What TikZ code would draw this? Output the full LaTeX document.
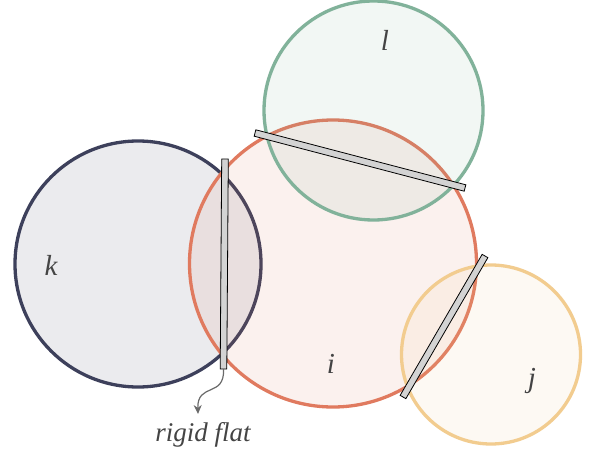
\documentclass[tikz,border=0pt]{standalone}
\usepackage{fontspec}
\setmainfont{Liberation Serif}
\usetikzlibrary{calc,arrows.meta}
\definecolor{cK}{HTML}{3D405B}
\definecolor{cI}{HTML}{E07A5F}
\definecolor{cL}{HTML}{81B29A}
\definecolor{cJ}{HTML}{F2CC8F}
\definecolor{barfill}{HTML}{D3D3D3}
\definecolor{txt}{HTML}{444444}
\definecolor{arrowgray}{HTML}{6A6A6A}
\tikzset{
  ball/.style={circle, draw=#1, fill=#1, fill opacity=0.1, draw opacity=1, line width=3.3pt, inner sep=0pt, outer sep=0pt},
  lab/.style={text=txt, font=\fontsize{29}{32}\selectfont\itshape, inner sep=0pt},
  flatbar/.style={draw=black, fill=barfill, line width=0.8pt, line join=miter},
  pointer/.style={draw=arrowgray, line width=1.2pt, -{Stealth[length=9pt,width=8pt]}},
}
\newcommand{\flatbar}[2]{%
  \path[flatbar] ($(#1)!3.3pt!90:(#2)$) -- ($(#2)!3.3pt!-90:(#1)$) -- ($(#2)!3.3pt!90:(#1)$) -- ($(#1)!3.3pt!-90:(#2)$) -- cycle;}
\begin{document}
\begin{tikzpicture}[x=1pt,y=-1pt]
\useasboundingbox[fill=white] (0,0) rectangle (593,457);
% circles
\node[ball=cK, minimum size=246pt] (k) at (138,264) {};
\node[ball=cI, minimum size=287pt] (i) at (333,263.5) {};
\node[ball=cL, minimum size=219pt] (l) at (373.5,110.5) {};
\node[ball=cJ, minimum size=179pt] (j) at (491,354.5) {};
% labels
\node[lab] (kl) at (51,265) {k};
\node[lab] (il) at (331,364) {i};
\node[lab] (ll) at (385,40) {l};
\node[lab] (jl) at (532,381) {j};
% rigid flats
\coordinate (b1a) at (225,159);
\coordinate (b1b) at (223.5,369);
\coordinate (b2a) at (255,133);
\coordinate (b2b) at (465,188);
\coordinate (b3a) at (485,256);
\coordinate (b3b) at (403,397);
\flatbar{b1a}{b1b}
\flatbar{b2a}{b2b}
\flatbar{b3a}{b3b}
% annotation
\node[text=txt, font=\fontsize{27}{30}\selectfont\itshape, inner sep=0pt] (rf) at (203,435) {rigid flat};
\coordinate (tip) at (198,414);
\draw[pointer] (b1b) .. controls (225,398) and (197,382) .. (tip);
\end{tikzpicture}
\end{document}
